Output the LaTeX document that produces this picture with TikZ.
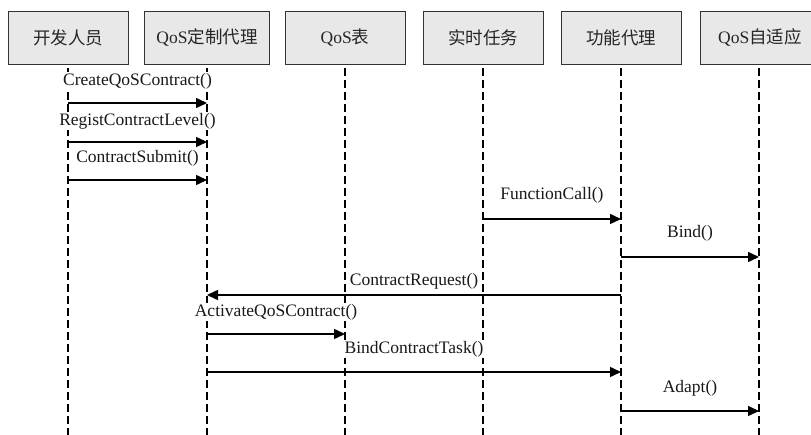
\documentclass[tikz,border=0pt]{standalone}
\usepackage{fontspec}
\setmainfont{Liberation Serif}
\newfontfamily\cjk{Noto Sans CJK SC}
\usetikzlibrary{arrows.meta}
\begin{document}
\begin{tikzpicture}[x=1pt,y=-1pt,
  hbox/.style={draw=black!80,line width=0.9pt,fill=black!9,minimum height=53pt,minimum width=120pt,inner sep=0pt,font=\fontsize{17.5}{20}\selectfont,text=black!85},
  lifeline/.style={line width=2pt,dash pattern=on 8pt off 4pt},
  msgarrow/.style={line width=1.5pt,-{Triangle[length=11pt,width=10pt]}},
  msglabel/.style={fill=white,inner sep=1pt,font=\fontsize{17.5}{20}\selectfont,text=black!90}]
\useasboundingbox (0,0) rectangle (811,435);
\begin{scope}
\clip (0,0) rectangle (811,435);
\node[hbox] (h1) at (68,37.5) {\cjk 开发人员};
\node[hbox,minimum width=125pt] (h2) at (207,37.5) {QoS{\cjk 定制代理}};
\node[hbox] (h3) at (345,37.5) {QoS{\cjk 表}};
\node[hbox] (h4) at (483,37.5) {\cjk 实时任务};
\node[hbox] (h5) at (621,37.5) {\cjk 功能代理};
\node[hbox] (h6) at (760,37.5) {QoS{\cjk 自适应}};
\end{scope}
% lifeline ends
\foreach \i/\xx in {1/68,2/207,3/345,4/483,5/621,6/759}{
  \coordinate (t\i) at (\xx,68);
  \coordinate (b\i) at (\xx,435);
  \draw[lifeline] (t\i) -- (b\i);
}
% labels
\node[msglabel] (l1) at (137.5,81) {CreateQoSContract()};
\node[msglabel] (l2) at (137.5,121) {RegistContractLevel()};
\node[msglabel] (l3) at (137.5,158) {ContractSubmit()};
\node[msglabel] (l4) at (552,195) {FunctionCall()};
\node[msglabel] (l5) at (690,233) {Bind()};
\node[msglabel] (l6) at (414,281) {ContractRequest()};
\node[msglabel] (l7) at (276,312) {ActivateQoSContract()};
\node[msglabel] (l8) at (414,349) {BindContractTask()};
\node[msglabel] (l9) at (690,388) {Adapt()};
% messages
\draw[msgarrow] (t1 |- 0,103) -- (t2 |- 0,103);
\draw[msgarrow] (t1 |- 0,142) -- (t2 |- 0,142);
\draw[msgarrow] (t1 |- 0,180) -- (t2 |- 0,180);
\draw[msgarrow] (t4 |- 0,219) -- (t5 |- 0,219);
\draw[msgarrow] (t5 |- 0,257) -- (t6 |- 0,257);
\draw[msgarrow] (t5 |- 0,295) -- (t2 |- 0,295);
\draw[msgarrow] (t2 |- 0,334) -- (t3 |- 0,334);
\draw[msgarrow] (t2 |- 0,372) -- (t5 |- 0,372);
\draw[msgarrow] (t5 |- 0,411) -- (t6 |- 0,411);
\end{tikzpicture}
\end{document}
